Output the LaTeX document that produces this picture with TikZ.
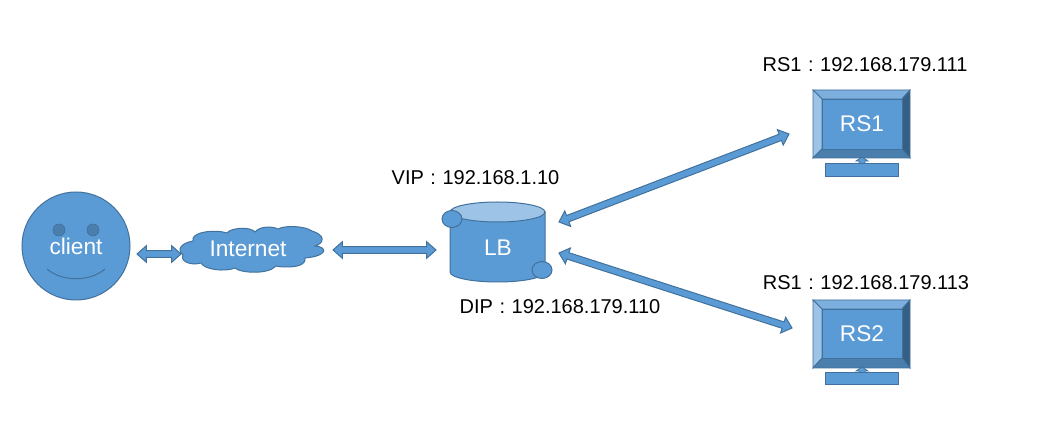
\documentclass[tikz,border=0pt]{standalone}
\usepackage{fontspec}
\setmainfont{Liberation Sans}
\usetikzlibrary{calc}
\definecolor{fillblue}{HTML}{5B9BD5}
\definecolor{edgeblue}{HTML}{41719C}
\definecolor{lightblue}{HTML}{9DC3E6}
\definecolor{topblue}{HTML}{7CAFDD}
\definecolor{bottomblue}{HTML}{4A7EAC}
\definecolor{darkblue}{HTML}{355F85}
\definecolor{eyeblue}{HTML}{4A7EAC}
\tikzset{
  shapeline/.style={draw=edgeblue,line width=0.75pt,line join=miter,fill=fillblue},
  bevel/.style={draw=edgeblue,line width=0.6pt,line join=miter},
  addr/.style={text=black,font=\fontsize{15}{18}\selectfont,inner sep=0pt,anchor=center},
  inlabel/.style={text=white,font=\fontsize{17}{20}\selectfont,inner sep=0pt,anchor=center},
  eye/.style={circle,draw=edgeblue,line width=0.5pt,fill=eyeblue,minimum size=9pt,inner sep=0pt},
}
\newcommand{\addrsep}{\ \hspace{0.75pt}:\ \hspace{0.75pt}}
% block arrow with a head at both ends
\newcommand{\blockboth}[2]{%
  \path[shapeline]
    (#1) -- ($(#1)!7pt!(#2)!6.2pt!90:(#2)$) -- ($(#1)!7pt!(#2)!2.5pt!90:(#2)$)
    -- ($(#2)!7pt!(#1)!2.5pt!-90:(#1)$) -- ($(#2)!7pt!(#1)!6.2pt!-90:(#1)$)
    -- (#2)
    -- ($(#2)!7pt!(#1)!6.2pt!90:(#1)$) -- ($(#2)!7pt!(#1)!2.5pt!90:(#1)$)
    -- ($(#1)!7pt!(#2)!2.5pt!-90:(#2)$) -- ($(#1)!7pt!(#2)!6.2pt!-90:(#2)$)
    -- cycle;}
% monitor: name, top y, bottom y, inner top, inner bottom, stand top, stand bottom
\newcommand{\monitor}[7]{%
  \path[bevel,fill=topblue] (813,#2) -- (910,#2) -- (902,#4) -- (822,#4) -- cycle;
  \path[bevel,fill=lightblue] (813,#2) -- (822,#4) -- (822,#5) -- (813,#3) -- cycle;
  \path[bevel,fill=darkblue] (910,#2) -- (902,#4) -- (902,#5) -- (910,#3) -- cycle;
  \path[bevel,fill=bottomblue] (813,#3) -- (822,#5) -- (902,#5) -- (910,#3) -- cycle;
  \path[shapeline,line width=0.6pt] (822,#4) rectangle (902,#5);
  \path[shapeline,line width=0.6pt] (862,{#3-1}) -- (868,{#3+3}) -- (865,{#3+3}) -- (865,#6)
    -- (859,#6) -- (859,{#3+3}) -- (856,{#3+3}) -- cycle;
  \path[shapeline] (825,#6) rectangle (898,#7);
  \node[inlabel] (#1) at (862,{(#4+#5)/2}) {#1};}
\begin{document}
\begin{tikzpicture}[x=0.75pt,y=-0.75pt]
\useasboundingbox[fill=white] (0,0) rectangle (1061,427);

% client face
\node[circle,shapeline,minimum size=81pt,inner sep=0pt] (face) at (76,246) {};
\node[eye] (eyeL) at (59,230) {};
\node[eye] (eyeR) at (93,230) {};
\coordinate (smileL) at (47,269);
\coordinate (smileR) at (105,269);
\draw[edgeblue,line width=0.75pt] (smileL) .. controls (62,282) and (90,282) .. (smileR);
\node[inlabel] (client) at (76,246) {client};

% Internet cloud
\path[shapeline]
  (183,255)
  .. controls (176,249) and (182,243) .. (193,241)
  .. controls (190,232) and (215,229) .. (227,233)
  .. controls (230,228) and (250,226) .. (255,232)
  .. controls (260,226) and (272,226) .. (278,229)
  .. controls (285,225) and (305,226) .. (312,231)
  .. controls (325,235) and (325,243) .. (315,246)
  .. controls (328,247) and (328,256) .. (305,258)
  .. controls (307,268) and (285,268) .. (276,266)
  .. controls (268,275) and (240,273) .. (235,268)
  .. controls (225,272) and (205,270) .. (201,263)
  .. controls (190,266) and (180,261) .. (183,255) -- cycle;
\node[inlabel] (internet) at (248,249) {Internet};

% LB cylinder
\path[shapeline] (450,212) -- (450,272) arc[start angle=180,end angle=360,x radius=47.5,y radius=-10]
  -- (545,212) -- cycle;
\path[shapeline,fill=lightblue] (497.5,212) ellipse[x radius=47.5,y radius=10];
\path[shapeline] (452,219) ellipse[x radius=10,y radius=8.5];
\path[shapeline] (542,270) ellipse[x radius=10,y radius=8.5];
\node[inlabel] (LB) at (498,248) {LB};

% servers
\monitor{RS1}{90}{158}{99}{149}{164}{177}
\monitor{RS2}{300}{368}{309}{358}{373}{385}

% address labels
\node[addr] (vip) at (475.5,178) {VIP\addrsep 192.168.1.10};
\node[addr] (dip) at (560,307) {DIP\addrsep 192.168.179.110};
\node[addr] (rsa) at (865,65) {RS1\addrsep 192.168.179.111};
\node[addr] (rsb) at (866,283) {RS1\addrsep 192.168.179.113};

% connector ends
\coordinate (c1) at (137,254);
\coordinate (c2) at (181,254);
\coordinate (c3) at (333,250);
\coordinate (c4) at (436,250);
\coordinate (c5) at (559,222);
\coordinate (c6) at (789,134);
\coordinate (c7) at (559,253);
\coordinate (c8) at (792,328);
\blockboth{c1}{c2}
\blockboth{c3}{c4}
\blockboth{c5}{c6}
\blockboth{c7}{c8}
\end{tikzpicture}
\end{document}
